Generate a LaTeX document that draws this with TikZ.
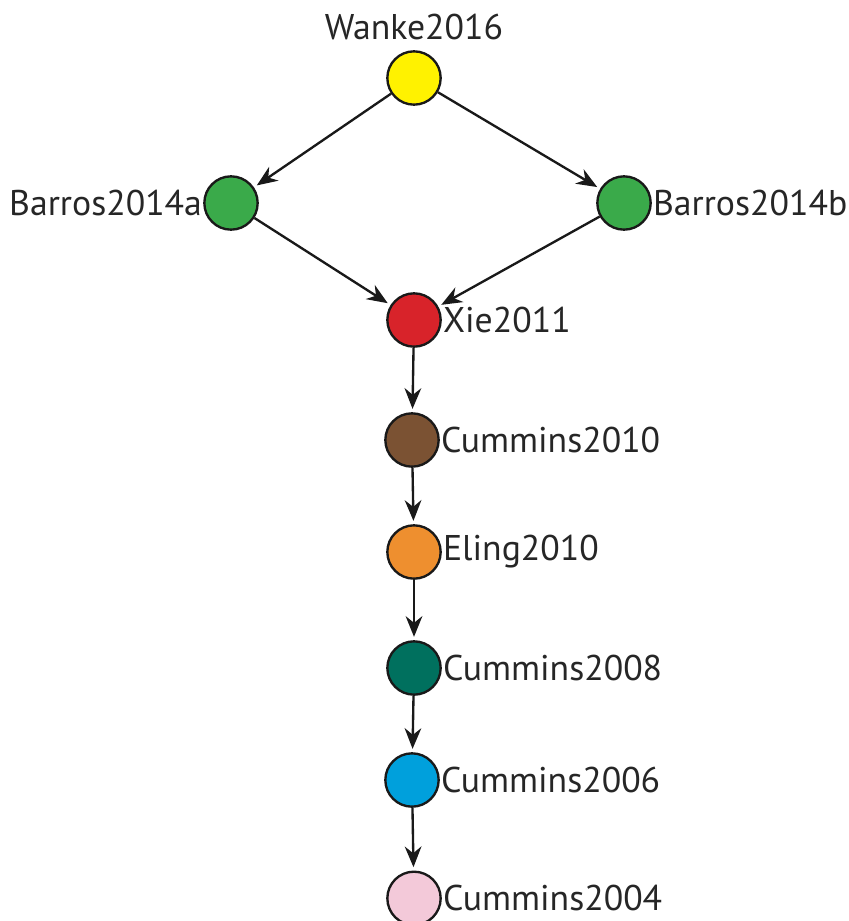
\documentclass[tikz,border=0pt]{standalone}
\usepackage{fontspec}
\setmainfont{PT Sans}
\usepackage{xcolor}
\usetikzlibrary{arrows.meta, positioning}
\definecolor{cyellow}{HTML}{FFF200}
\definecolor{cgreen}{HTML}{3AAA4A}
\definecolor{cred}{HTML}{D8232A}
\definecolor{cbrown}{HTML}{7B5233}
\definecolor{corange}{HTML}{EE8F2F}
\definecolor{cteal}{HTML}{00705E}
\definecolor{cblue}{HTML}{00A0DC}
\definecolor{cpink}{HTML}{F3C9D9}
\begin{document}
\begin{tikzpicture}[
    node distance=0cm,
    paper/.style={circle, draw=black!90, line width=2pt, minimum size=1.6cm, inner sep=0pt},
    tag/.style={inner sep=0pt, text=black!85, font=\fontsize{30.5}{36}\selectfont},
    link/.style={-{Stealth[length=0.62cm, width=0.5cm]}, line width=2pt, black!90, shorten >=0.1cm},
]
\useasboundingbox (0,0) rectangle (25.47,-27.63);

% Top
\node[paper, fill=cyellow] (wanke) at (12.42,-2.34) {};
\node[tag, above=0.3cm of wanke] (wankelbl) {Wanke2016};

% Middle pair
\node[paper, fill=cgreen] (barrosa) at (6.93,-6.09) {};
\node[tag, left=0.03cm of barrosa] (barrosalbl) {Barros2014a};
\node[paper, fill=cgreen] (barrosb) at (18.72,-6.09) {};
\node[tag, right=0.03cm of barrosb] (barrosblbl) {Barros2014b};

% Chain
\node[paper, fill=cred] (xie) at (12.42,-9.6) {};
\node[tag, right=0.03cm of xie] (xielbl) {Xie2011};
\node[paper, fill=cbrown] (cum10) at (12.36,-13.2) {};
\node[tag, right=0.03cm of cum10] (cum10lbl) {Cummins2010};
\node[paper, fill=corange] (eling) at (12.42,-16.56) {};
\node[tag, right=0.03cm of eling] (elinglbl) {Eling2010};
\node[paper, fill=cteal] (cum08) at (12.42,-20.04) {};
\node[tag, right=0.03cm of cum08] (cum08lbl) {Cummins2008};
\node[paper, fill=cblue] (cum06) at (12.36,-23.4) {};
\node[tag, right=0.03cm of cum06] (cum06lbl) {Cummins2006};
\node[paper, fill=cpink] (cum04) at (12.42,-26.95) {};
\node[tag, right=0.03cm of cum04] (cum04lbl) {Cummins2004};

% Arrows
\draw[link] (wanke) -- (barrosa);
\draw[link] (wanke) -- (barrosb);
\draw[link] (barrosa) -- (xie);
\draw[link] (barrosb) -- (xie);
\draw[link] (xie) -- (cum10);
\draw[link] (cum10) -- (eling);
\draw[link] (eling) -- (cum08);
\draw[link] (cum08) -- (cum06);
\draw[link] (cum06) -- (cum04);

\end{tikzpicture}
\end{document}
